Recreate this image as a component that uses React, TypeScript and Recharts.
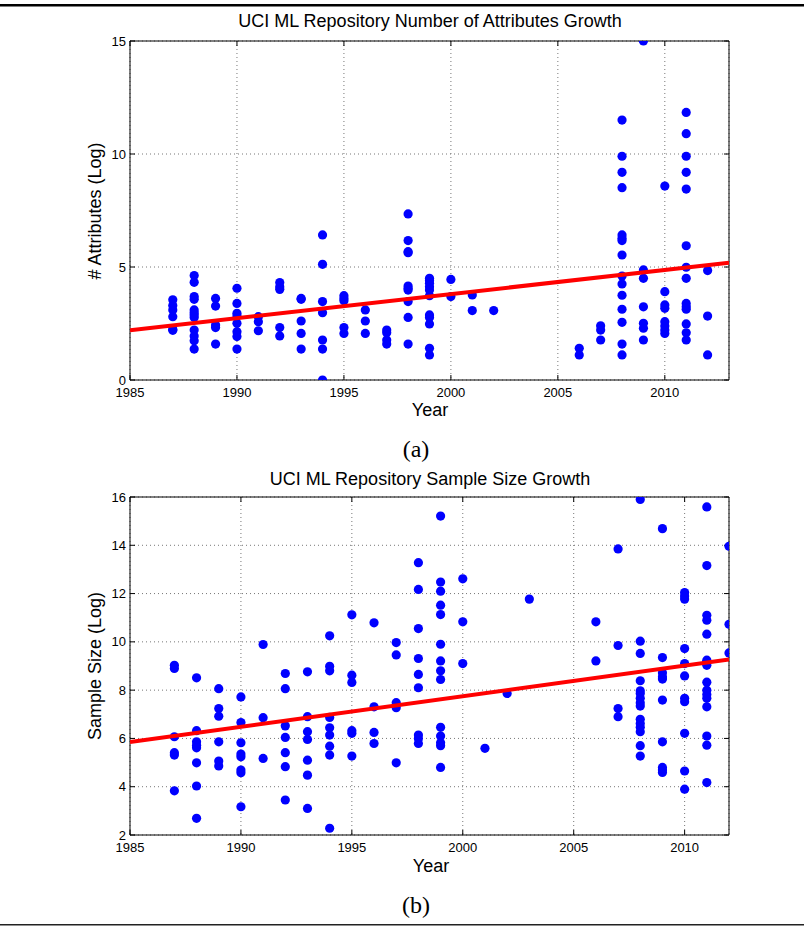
import { CartesianGrid, Scatter, ScatterChart, XAxis, YAxis } from "recharts";

// Panel (a): log number of attributes, grouped by donation year.
const ATTRIBUTES: [number, number[]][] = [
  [1987, [3.55, 3.3, 3.1, 2.8, 2.25, 2.2]],
  [1988, [4.62, 4.32, 3.69, 3.57, 3.1, 2.98, 2.88, 2.77, 2.21, 1.95, 1.74, 1.37]],
  [1989, [3.61, 3.27, 2.43, 2.32, 1.59]],
  [1990, [4.06, 3.39, 2.95, 2.83, 2.51, 2.14, 1.92, 1.37]],
  [1991, [2.8, 2.58, 2.18]],
  [1992, [4.31, 4.13, 4.01, 2.32, 1.95]],
  [1993, [3.61, 3.57, 2.61, 2.06, 1.37]],
  [1994, [6.42, 5.12, 3.47, 2.98, 1.77, 1.37, 0]],
  [1995, [3.73, 3.61, 3.51, 2.32, 2.06]],
  [1996, [3.1, 2.61, 2.06]],
  [1997, [2.21, 2.09, 1.77, 1.59]],
  [1998, [7.35, 6.17, 5.68, 5.63, 4.16, 4.06, 3.98, 3.47, 2.77, 1.59]],
  [1999, [4.5, 4.4, 4.28, 4.13, 3.98, 3.73, 2.88, 2.77, 2.48, 1.4, 1.11]],
  [2000, [4.45, 3.69]],
  [2001, [3.76, 3.07]],
  [2002, [3.07]],
  [2006, [1.4, 1.11]],
  [2007, [2.4, 2.21, 1.77]],
  [2008, [11.5, 9.9, 9.19, 8.51, 6.42, 6.27, 6.17, 5.53, 4.6, 4.25, 3.75, 3.13, 2.55, 1.59, 1.11]],
  [2009, [15.0, 4.87, 4.5, 3.24, 2.51, 2.29, 1.77]],
  [2010, [8.58, 3.91, 3.32, 3.17, 2.58, 2.39, 2.21, 2.06]],
  [2011, [11.84, 10.9, 9.9, 9.19, 8.45, 5.94, 4.99, 4.5, 3.39, 3.24, 3.13, 2.48, 2.09, 1.77]],
  [2012, [4.84, 2.83, 1.11]],
];
const ATTR_FIT_YEARS = [1985, 2013];
const ATTR_FIT_VALUES = [2.2, 5.19];
const ATTR_X_TICKS = [1985, 1990, 1995, 2000, 2005, 2010];
const ATTR_Y_TICKS = [0, 5, 10, 15];

// Panel (b): log sample size, grouped by donation year.
const SAMPLES: [number, number[]][] = [
  [1987, [9.03, 8.9, 6.07, 5.41, 5.31, 3.83]],
  [1988, [8.51, 6.32, 5.86, 5.72, 5.61, 4.99, 4.03, 2.69]],
  [1989, [8.06, 7.24, 6.92, 5.86, 5.06, 4.86]],
  [1990, [7.72, 6.66, 5.82, 5.35, 5.24, 4.69, 4.58, 3.17]],
  [1991, [9.89, 6.86, 5.17]],
  [1992, [8.69, 8.06, 6.52, 6.04, 5.41, 4.83, 3.45]],
  [1993, [8.76, 6.9, 6.28, 5.96, 5.1, 4.48, 3.1]],
  [1994, [10.25, 8.99, 8.8, 6.87, 6.44, 6.14, 5.68, 5.31, 2.28]],
  [1995, [11.12, 8.62, 8.32, 6.32, 6.21, 5.27]],
  [1996, [10.79, 7.31, 6.25, 5.79]],
  [1997, [9.97, 9.46, 7.48, 7.27, 4.99]],
  [1998, [13.28, 12.17, 10.55, 9.31, 8.65, 8.1, 6.14, 6.0, 5.79]],
  [1999, [15.21, 12.48, 12.1, 11.52, 11.13, 9.9, 9.21, 8.8, 8.44, 6.46, 6.1, 5.82, 5.7, 4.8]],
  [2000, [12.61, 10.83, 9.1]],
  [2001, [5.59]],
  [2002, [7.86]],
  [2003, [11.77]],
  [2006, [10.83, 9.21]],
  [2007, [13.85, 9.85, 7.24, 6.9]],
  [2008, [15.9, 10.03, 9.52, 8.39, 7.97, 7.86, 7.66, 7.48, 7.34, 6.79, 6.62, 6.46, 6.28, 5.7, 5.27]],
  [2009, [14.69, 9.35, 8.72, 8.55, 8.46, 7.59, 5.86, 4.8, 4.69, 4.59]],
  [2010, [12.04, 11.9, 11.77, 9.72, 9.1, 8.59, 7.66, 7.52, 6.21, 4.65, 3.9]],
  [2011, [15.59, 13.16, 11.1, 10.9, 10.32, 9.24, 9.17, 9.03, 8.33, 8.0, 7.82, 7.66, 7.31, 6.1, 5.72, 4.17]],
  [2012, [13.96, 10.73, 9.54]],
];
const SIZE_FIT_YEARS = [1985, 2012];
const SIZE_FIT_VALUES = [5.85, 9.27];
const SIZE_X_TICKS = [1985, 1990, 1995, 2000, 2005, 2010];
const SIZE_Y_TICKS = [2, 4, 6, 8, 10, 12, 14, 16];

const SANS = "'Liberation Sans', Arial, Helvetica, sans-serif";
const SERIF = "'Liberation Serif', 'Times New Roman', serif";

const flatten = (groups: [number, number[]][]) =>
  groups.flatMap(([x, vals]) => vals.map((y) => ({ x, y })));

const zip = (xs: number[], ys: number[]) => xs.map((x, i) => ({ x, y: ys[i] }));

const tickStyle = { fontSize: 13, fill: "#000", fontFamily: SANS };
const blank = () => "";
const noMark = () => <g />;

interface PanelProps {
  points: { x: number; y: number }[];
  fit: { x: number; y: number }[];
  xDomain: [number, number];
  yDomain: [number, number];
  xTicks: number[];
  yTicks: number[];
  top: number;
  height: number;
  margin: { top: number; right: number; bottom: number; left: number };
}

function Panel(p: PanelProps) {
  return (
    <div style={{ position: "absolute", left: 0, top: p.top }}>
      <ScatterChart width={804} height={p.height} margin={p.margin}>
        <CartesianGrid stroke="#777" strokeDasharray="1 3" />
        <XAxis
          type="number"
          dataKey="x"
          domain={p.xDomain}
          ticks={p.xTicks}
          allowDataOverflow
          height={30}
          stroke="#000"
          tickSize={-5}
          tickMargin={13}
          tick={tickStyle}
        />
        <XAxis
          xAxisId="top"
          orientation="top"
          type="number"
          dataKey="x"
          domain={p.xDomain}
          ticks={p.xTicks}
          allowDataOverflow
          height={1}
          stroke="#000"
          tickSize={-5}
          tickFormatter={blank}
        />
        <YAxis
          type="number"
          dataKey="y"
          domain={p.yDomain}
          ticks={p.yTicks}
          allowDataOverflow
          width={40}
          stroke="#000"
          tickSize={-5}
          tickMargin={9}
          tick={tickStyle}
        />
        <YAxis
          yAxisId="right"
          orientation="right"
          type="number"
          dataKey="y"
          domain={p.yDomain}
          ticks={p.yTicks}
          allowDataOverflow
          width={1}
          stroke="#000"
          tickSize={-5}
          tickFormatter={blank}
        />
        {/* invisible series so the top / right frame axes get drawn */}
        <Scatter
          data={p.fit}
          xAxisId="top"
          yAxisId="right"
          isAnimationActive={false}
          shape={noMark}
        />
        <Scatter
          data={p.points}
          isAnimationActive={false}
          shape={(s: any) => <circle cx={s.cx} cy={s.cy} r={4.6} fill="#0000ff" />}
        />
        <Scatter
          data={p.fit}
          isAnimationActive={false}
          line={{ stroke: "#ff0000", strokeWidth: 4 }}
          shape={noMark}
        />
      </ScatterChart>
    </div>
  );
}

export default function App() {
  return (
    <div style={{ position: "absolute", left: 0, top: 0, width: 804, height: 926, background: "#fff" }}>
      <Panel
        points={flatten(ATTRIBUTES)}
        fit={zip(ATTR_FIT_YEARS, ATTR_FIT_VALUES)}
        xDomain={[1985, 2013]}
        yDomain={[0, 15]}
        xTicks={ATTR_X_TICKS}
        yTicks={ATTR_Y_TICKS}
        top={0}
        height={430}
        margin={{ top: 40, right: 74, bottom: 20, left: 90 }}
      />
      <Panel
        points={flatten(SAMPLES)}
        fit={zip(SIZE_FIT_YEARS, SIZE_FIT_VALUES)}
        xDomain={[1985, 2012]}
        yDomain={[2, 16]}
        xTicks={SIZE_X_TICKS}
        yTicks={SIZE_Y_TICKS}
        top={440}
        height={486}
        margin={{ top: 56, right: 74, bottom: 61, left: 90 }}
      />
      {/* titles, axis names, sub-captions and the figure rules */}
      <svg
        width={804}
        height={926}
        style={{ position: "absolute", left: 0, top: 0, pointerEvents: "none" }}
      >
        <rect x={0} y={4} width={804} height={2.5} fill="#000" />
        <rect x={0} y={924} width={804} height={1.5} fill="#222" />
        <g fontFamily={SANS} fontSize={18} fill="#000" textAnchor="middle">
          <text x={430} y={27}>UCI ML Repository Number of Attributes Growth</text>
          <text x={430} y={416}>Year</text>
          <text x={101} y={211} transform="rotate(-90 101 211)">
            # Attributes (Log)
          </text>
          <text x={430} y={485}>UCI ML Repository Sample Size Growth</text>
          <text x={431} y={872}>Year</text>
          <text x={101} y={666} transform="rotate(-90 101 666)">
            Sample Size (Log)
          </text>
        </g>
        <g fontFamily={SERIF} fontSize={24} fill="#000" textAnchor="middle">
          <text x={416} y={457}>(a)</text>
          <text x={416} y={913}>(b)</text>
        </g>
      </svg>
    </div>
  );
}
